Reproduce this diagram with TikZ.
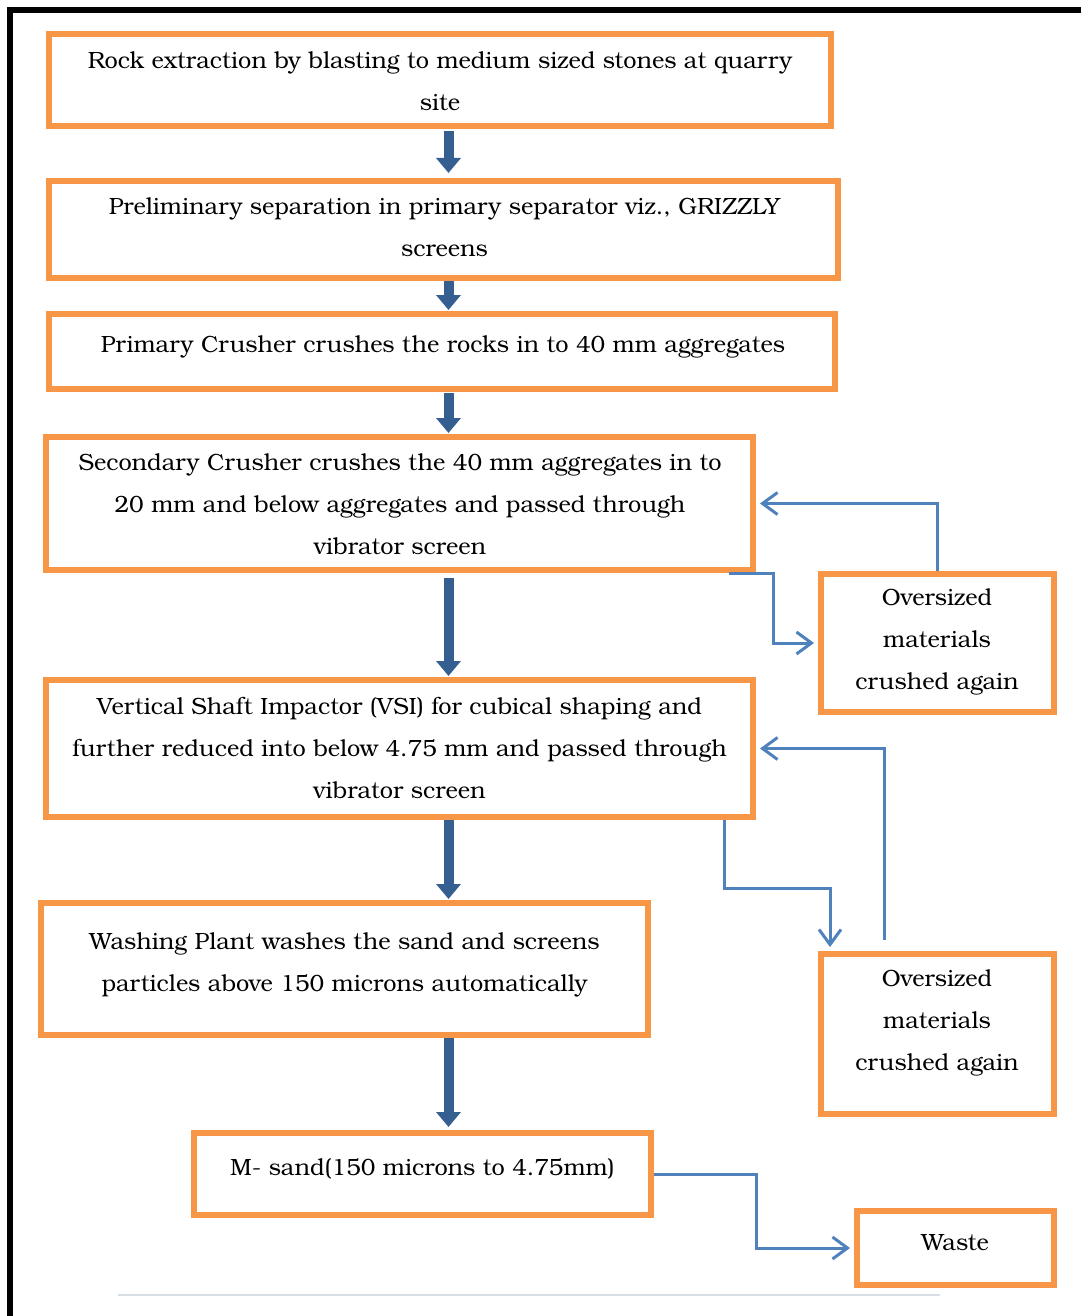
\documentclass[tikz,border=0pt]{standalone}
\usepackage{fontspec}
\setmainfont{TeX Gyre Bonum}
\usetikzlibrary{arrows.meta}
\definecolor{boxorange}{RGB}{247,150,70}
\definecolor{bigblue}{RGB}{54,95,145}
\definecolor{thinblue}{RGB}{79,129,189}
\definecolor{rulegray}{RGB}{215,222,230}
\begin{document}
\begin{tikzpicture}[x=1pt,y=-1pt,
  box/.style={draw=boxorange,line width=6pt,inner sep=0pt},
  txt/.style={align=center,inner sep=0pt,font=\fontsize{23.5}{42}\selectfont},
  bigarrow/.style={draw=bigblue,line width=10pt,-{Triangle[width=24pt,length=15pt]}},
  conn/.style={draw=thinblue,line width=3pt,-{Straight Barb[length=15pt,width=22pt]}}]
\useasboundingbox (0,0) rectangle (1081,1316);
% page frame
\draw[line width=6pt] (10,1316) -- (10,10) -- (1081,10);
\draw[rulegray,line width=2pt] (118,1295) -- (940,1295);
% boxes
\node[box,minimum width=782pt,minimum height=92pt] (b1) at (440,80) {};
\node[box,minimum width=789pt,minimum height=97pt] (b2) at (443.5,229.5) {};
\node[box,minimum width=786pt,minimum height=75pt] (b3) at (442,351.5) {};
\node[box,minimum width=707pt,minimum height=133pt] (b4) at (399.5,503.5) {};
\node[box,minimum width=233pt,minimum height=138pt] (b5) at (937.5,643) {};
\node[box,minimum width=707pt,minimum height=137pt] (b6) at (399.5,748.5) {};
\node[box,minimum width=607pt,minimum height=132pt] (b7) at (344.5,969) {};
\node[box,minimum width=233pt,minimum height=160pt] (b8) at (937.5,1034) {};
\node[box,minimum width=457pt,minimum height=82pt] (b9) at (422.5,1174) {};
\node[box,minimum width=197pt,minimum height=74pt] (b10) at (955.5,1248) {};
% texts
\node[txt] (t1) at (440,81) {Rock extraction by blasting to medium sized stones at quarry\\site};
\node[txt] (t2) at (444.5,227) {Preliminary separation in primary separator viz., GRIZZLY\\screens};
\node[txt] (t3) at (443,347) {Primary Crusher crushes the rocks in to 40 mm aggregates};
\node[txt] (t4) at (400,504) {Secondary Crusher crushes the 40 mm aggregates in to\\20 mm and below aggregates and passed through\\vibrator screen};
\node[txt] (t5) at (937,642) {Oversized\\materials\\crushed again};
\node[txt] (t6) at (399.5,748) {Vertical Shaft Impactor (VSI) for cubical shaping and\\further reduced into below 4.75 mm and passed through\\vibrator screen};
\node[txt] (t7) at (344.5,964.5) {Washing Plant washes the sand and screens\\particles above 150 microns automatically};
\node[txt] (t8) at (937,1023) {Oversized\\materials\\crushed again};
\node[txt] (t9) at (422.5,1169) {M- sand(150 microns to 4.75mm)};
\node[txt] (t10) at (955,1243) {Waste};
% main flow
\coordinate (ax) at (448.5,0);
\draw[bigarrow] ([yshift=-2pt]b1.south -| ax) -- ([yshift=5pt]b2.north -| ax);
\draw[bigarrow] (b2.south -| ax) -- ([yshift=1pt]b3.north -| ax);
\draw[bigarrow] ([yshift=-1pt]b3.south -| ax) -- ([yshift=1pt]b4.north -| ax);
\draw[bigarrow] ([yshift=-5pt]b4.south -| ax) -- ([yshift=1pt]b6.north -| ax);
\draw[bigarrow] (b6.south -| ax) -- ([yshift=1pt]b7.north -| ax);
\draw[bigarrow] (b7.south -| ax) -- ([yshift=3pt]b9.north -| ax);
% side loops
\draw[conn] ([xshift=-27pt]b4.south east) -- ++(44,0) |- ([xshift=-4pt]b5.west);
\draw[conn] (b5.north) |- ([xshift=4pt]b4.east);
\draw[conn] ([xshift=-32pt]b6.south east) -- ++(0,68) -| ([xshift=12pt,yshift=4pt]b8.north west);
\draw[conn] ([xshift=-53.5pt,yshift=11pt]b8.north) |- ([xshift=4pt]b6.east);
\draw[conn] (b9.east) -- ++(102,0) |- ([xshift=-4pt]b10.west);
\end{tikzpicture}
\end{document}
